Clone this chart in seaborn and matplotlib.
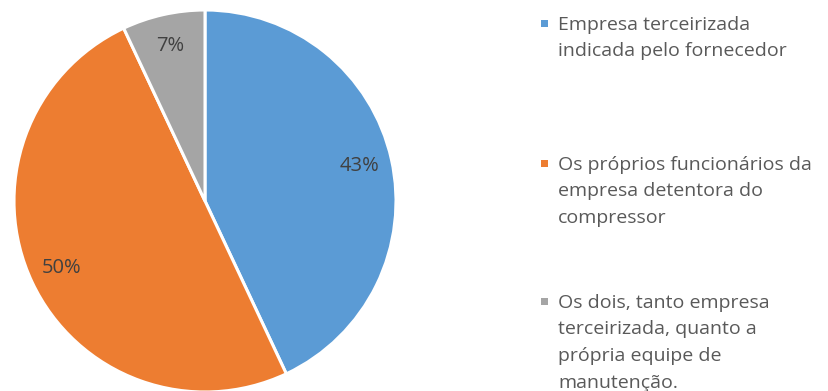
import matplotlib
matplotlib.use("Agg")
import matplotlib.pyplot as plt
from matplotlib.patches import Rectangle
import seaborn as sns

# Quem realiza a manutenção dos compressores
categories = [
    "Empresa terceirizada\nindicada pelo fornecedor",
    "Os próprios funcionários da\nempresa detentora do\ncompressor",
    "Os dois, tanto empresa\nterceirizada, quanto a\nprópria equipe de\nmanutenção.",
]
shares = [43, 50, 7]
colors = sns.color_palette(["#5B9BD5", "#ED7D31", "#A5A5A5"])

sns.set_theme(style="white")
plt.rcParams["font.family"] = ["Open Sans", "DejaVu Sans"]

W, H, DPI = 829, 391, 100
fig = plt.figure(figsize=(W / DPI, H / DPI), dpi=DPI)

# pie axes: centre (205, 201) px from top-left, radius 191 px
cx, cy, r = 205, 201, 191
ax = fig.add_axes([(cx - r) / W, (H - cy - r) / H, 2 * r / W, 2 * r / H])
wedges, _, autotexts = ax.pie(
    shares,
    colors=colors,
    startangle=90,
    counterclock=False,
    radius=1.0,
    autopct=lambda p: f"{p:.0f}%",
    pctdistance=0.83,
    wedgeprops=dict(edgecolor="white", linewidth=2.2),
    textprops=dict(color="#404040", fontsize=14.5),
)
ax.set_xlim(-1, 1)
ax.set_ylim(-1, 1)
ax.set_aspect("auto")
ax.axis("off")

# legend: square marker on the first line of each wrapped label
first_baselines = [30, 170, 308]
line_pitch = 26.5
text_x = 558
for color, label, y0 in zip(colors, categories, first_baselines):
    fig.add_artist(Rectangle((541 / W, (H - y0 + 3) / H), 7 / W, 7 / H,
                             transform=fig.transFigure, color=color, lw=0))
    for i, line in enumerate(label.split("\n")):
        fig.text(text_x / W, (H - (y0 + i * line_pitch)) / H, line,
                 fontsize=14, color="#595959", ha="left", va="baseline")

fig.savefig("out.png", dpi=DPI, facecolor="white")
